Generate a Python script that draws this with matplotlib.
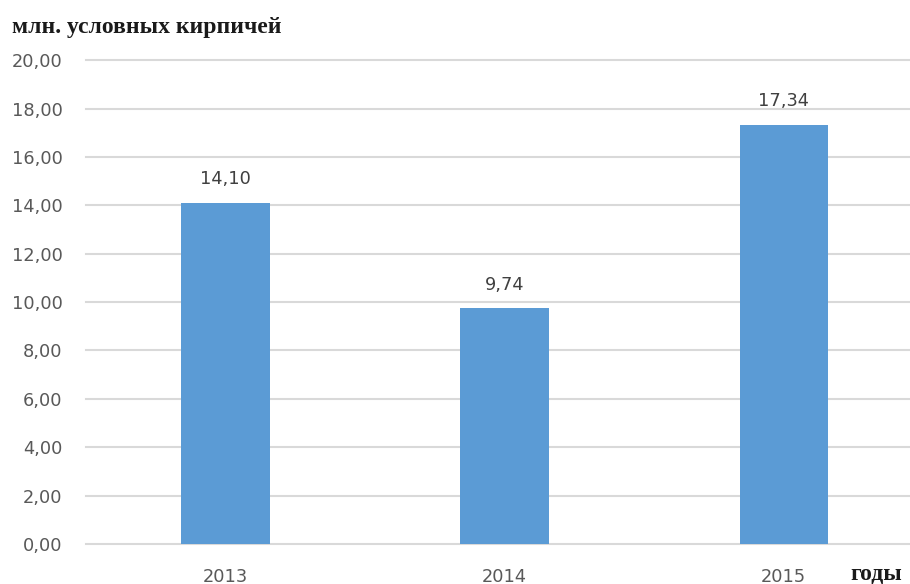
import numpy as np
from matplotlib import pyplot as plt

# chart data
years = ['2013', '2014', '2015']
values = [14.10, 9.74, 17.34]
y_ticks = [0, 2, 4, 6, 8, 10, 12, 14, 16, 18, 20]

bar_color = '#5B9BD5'
grid_color = '#D9D9D9'
text_color = '#595959'


def comma(v):
    return f'{v:.2f}'.replace('.', ',')


fig = plt.figure(figsize=(9.1, 5.84), dpi=100)
ax = fig.add_axes([0.0945, 0.0685, 0.9055, 0.8285])

x = np.arange(len(years))
bars = ax.bar(x, values, width=0.316, color=bar_color, zorder=3)

for rect, v in zip(bars, values):
    ax.annotate(comma(v), (rect.get_x() + rect.get_width() / 2, v),
                xytext=(0, 17), textcoords='offset points',
                ha='center', va='center', fontsize=12.8, color='#404040')

ax.set_ylim(0, 20)
ax.set_xlim(-0.5, 2.453)
ax.set_yticks(y_ticks)
ax.set_yticklabels([comma(t) for t in y_ticks])
ax.set_xticks(x)
ax.set_xticklabels(years)
ax.tick_params(axis='both', length=0, labelsize=12.8, colors=text_color)
ax.tick_params(axis='y', pad=17)
ax.tick_params(axis='x', pad=17)

ax.grid(axis='y', color=grid_color, linewidth=1.5, zorder=0)
for gl in ax.get_ygridlines():
    gl.set_clip_on(False)
for s in ax.spines.values():
    s.set_visible(False)

fig.text(12 / 910, 1 - 27 / 584, 'млн. условных кирпичей', fontsize=17,
         fontweight='bold', family='Liberation Serif', color='#1a1a1a',
         ha='left', va='center')
fig.text(850 / 910, 1 - 575 / 584, 'годы', fontsize=17,
         fontweight='bold', family='Liberation Serif', color='#1a1a1a',
         ha='left', va='center')

fig.savefig('out.png', dpi=100)
